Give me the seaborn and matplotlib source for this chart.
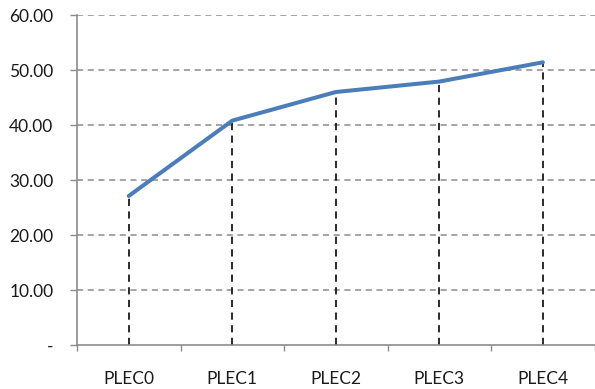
import matplotlib
matplotlib.use("Agg")
import matplotlib.pyplot as plt
from matplotlib.ticker import FuncFormatter, FixedLocator
import seaborn as sns
import pandas as pd

categories = ["PLEC0", "PLEC1", "PLEC2", "PLEC3", "PLEC4"]
values = [27.1, 40.8, 46.0, 47.9, 51.4]
y_ticks = [0, 10, 20, 30, 40, 50, 60]

sns.set_style("white")
plt.rcParams["font.family"] = ["Lato", "DejaVu Sans"]

df = pd.DataFrame({"pos": range(len(categories)), "value": values})

fig = plt.figure(figsize=(5.95, 3.89), dpi=100)
ax = fig.add_axes([0.1294, 0.1131, 0.8700, 0.8483])

# horizontal dashed gridlines
for t in y_ticks[1:]:
    ax.axhline(t, color="#8c8c8c", lw=1.1, ls=(0, (4, 3)), zorder=1)

# drop lines from each point down to the axis
ax.vlines(df["pos"], 0, df["value"], colors="#1a1a1a", lw=1.3,
          linestyles=(0, (4, 3)), zorder=2)

sns.lineplot(data=df, x="pos", y="value", ax=ax, color="#4a7ebb",
             lw=2.9, zorder=3, solid_capstyle="round")

ax.set_xlim(-0.5, len(categories) - 0.5)
ax.set_ylim(0, 60)
ax.set_yticks(y_ticks)
ax.yaxis.set_major_formatter(FuncFormatter(lambda v, p: "-" if v == 0 else f"{v:.2f}"))
ax.set_xticks(range(len(categories)))
ax.set_xticklabels(categories)
ax.xaxis.set_minor_locator(FixedLocator([i - 0.5 for i in range(len(categories) + 1)]))

ax.tick_params(axis="y", which="major", length=5, width=1, color="#8c8c8c",
               pad=12, labelsize=12.5, labelcolor="#1a1a1a", left=True)
ax.tick_params(axis="x", which="major", length=0, pad=19,
               labelsize=12.5, labelcolor="#1a1a1a")
ax.tick_params(axis="x", which="minor", length=4, width=1, color="#8c8c8c",
               bottom=True, direction="out")

for side in ["top", "right"]:
    ax.spines[side].set_visible(False)
for side in ["left", "bottom"]:
    ax.spines[side].set_color("#8c8c8c")
    ax.spines[side].set_linewidth(1.2)

ax.set_xlabel("")
ax.set_ylabel("")

fig.savefig("out.png", dpi=100)
